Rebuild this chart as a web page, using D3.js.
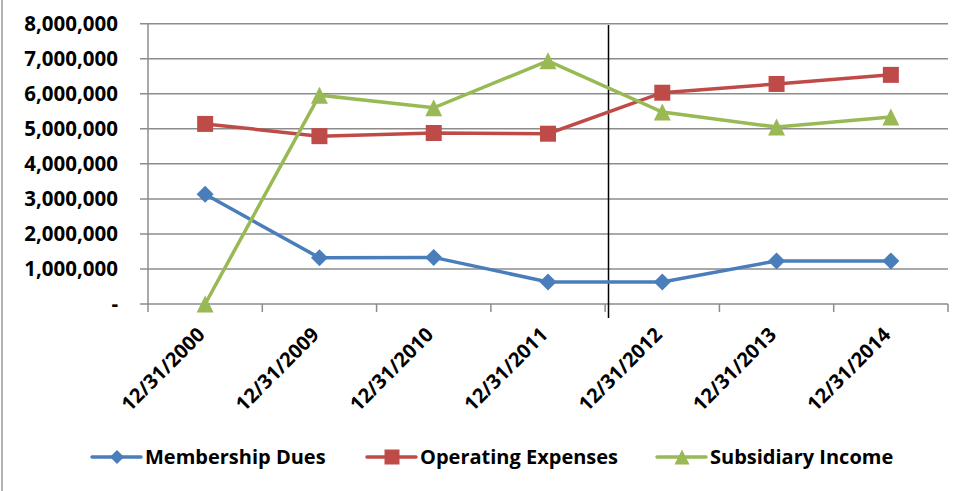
<!DOCTYPE html>
<html>
<head>
<meta charset="utf-8">
<script src="https://cdn.jsdelivr.net/npm/d3@7"></script>
<style>
body { margin: 0; background: #fff; }
text { font-family: "Open Sans", "Liberation Sans", sans-serif; font-weight: bold; fill: #000; }
</style>
</head>
<body>
<script>
// chart data
var dates = ["12/31/2000", "12/31/2009", "12/31/2010", "12/31/2011", "12/31/2012", "12/31/2013", "12/31/2014"];
var membershipDues = [3130000, 1320000, 1330000, 630000, 630000, 1230000, 1230000];
var operatingExpenses = [5140000, 4790000, 4880000, 4860000, 6030000, 6280000, 6540000];
var subsidiaryIncome = [0, 5960000, 5600000, 6940000, 5480000, 5050000, 5340000];
var seriesNames = ["Membership Dues", "Operating Expenses", "Subsidiary Income"];
var yTicks = [0, 1000000, 2000000, 3000000, 4000000, 5000000, 6000000, 7000000, 8000000];

var width = 961, height = 491;
var plotLeft = 148, plotRight = 948, plotTop = 23.7, plotBottom = 304;
var colors = ["#4a7ebb", "#be4b48", "#98b954"];
var fontSize = "20px";

// marker paths centred on 0,0 (r = half size)
function marker(kind, r) {
  if (kind === 0) return "M0," + (-r) + "L" + r + ",0L0," + r + "L" + (-r) + ",0Z";
  if (kind === 1) return "M" + (-r) + "," + (-r) + "H" + r + "V" + r + "H" + (-r) + "Z";
  return "M0," + (-r) + "L" + r + "," + r + "H" + (-r) + "Z";
}
var markerR = [8.5, 8, 8.5];
var legendR = [7, 7.5, 7.5];

var svg = d3.select("body").append("svg")
  .attr("width", width)
  .attr("height", height);

// left border of the chart frame
svg.append("line")
  .attr("x1", 2).attr("x2", 2).attr("y1", 0).attr("y2", height)
  .attr("stroke", "#999").attr("stroke-width", 1.5);

var x = d3.scaleBand().domain(dates).range([plotLeft, plotRight]);
var y = d3.scaleLinear().domain([0, 8000000]).range([plotBottom, plotTop]);

// gridlines + left ticks
svg.append("g").selectAll("line")
  .data(yTicks)
  .enter().append("line")
  .attr("x1", plotLeft - 8).attr("x2", plotRight)
  .attr("y1", function(d) { return y(d); })
  .attr("y2", function(d) { return y(d); })
  .attr("stroke", "#8c8c8c").attr("stroke-width", 1.5);

// y axis line
svg.append("line")
  .attr("x1", plotLeft).attr("x2", plotLeft).attr("y1", plotTop).attr("y2", plotBottom)
  .attr("stroke", "#8c8c8c").attr("stroke-width", 1.5);

// category ticks
var catTicks = dates.map(function(d) { return x(d); }).concat([plotRight]);
svg.append("g").selectAll("line")
  .data(catTicks)
  .enter().append("line")
  .attr("x1", function(d) { return d; }).attr("x2", function(d) { return d; })
  .attr("y1", plotBottom).attr("y2", plotBottom + 8)
  .attr("stroke", "#8c8c8c").attr("stroke-width", 1.5);

// y labels
svg.append("g").selectAll("text")
  .data(yTicks)
  .enter().append("text")
  .attr("x", 118)
  .attr("y", function(d) { return y(d) + 7; })
  .attr("text-anchor", "end")
  .style("font-size", "20.5px")
  .text(function(d) { return d === 0 ? "-" : d3.format(",")(d); });

// x labels, rotated
svg.append("g").selectAll("text")
  .data(dates)
  .enter().append("text")
  .attr("text-anchor", "end")
  .attr("transform", function(d) {
    var cx = x(d) + x.bandwidth() / 2 + 1;
    return "translate(" + cx + "," + (plotBottom + 32) + ") rotate(-45)";
  })
  .style("font-size", fontSize)
  .text(function(d) { return d; });

// divider line
svg.append("line")
  .attr("x1", 608.5).attr("x2", 608.5).attr("y1", 25).attr("y2", 318)
  .attr("stroke", "#000").attr("stroke-width", 1.5);

var allSeries = [membershipDues, operatingExpenses, subsidiaryIncome];
var line = d3.line()
  .x(function(d, i) { return x(dates[i]) + x.bandwidth() / 2; })
  .y(function(d) { return y(d); });

allSeries.forEach(function(vals, s) {
  svg.append("path")
    .attr("d", line(vals))
    .attr("fill", "none")
    .attr("stroke", colors[s])
    .attr("stroke-width", 3.5);
  svg.append("g").selectAll("path")
    .data(vals)
    .enter().append("path")
    .attr("d", marker(s, markerR[s]))
    .attr("transform", function(d, i) {
      return "translate(" + (x(dates[i]) + x.bandwidth() / 2) + "," + y(d) + ")";
    })
    .attr("fill", colors[s]);
});

// legend
var legendX = [92, 367, 657];
var legend = svg.append("g").selectAll("g")
  .data(seriesNames)
  .enter().append("g")
  .attr("transform", function(d, i) { return "translate(" + legendX[i] + ",457)"; });
legend.append("line")
  .attr("x1", 0).attr("x2", 49).attr("y1", 0).attr("y2", 0)
  .attr("stroke", function(d, i) { return colors[i]; })
  .attr("stroke-width", 3.5)
  .attr("stroke-linecap", "round");
legend.append("path")
  .attr("d", function(d, i) { return marker(i, legendR[i]); })
  .attr("transform", "translate(25,0)")
  .attr("fill", function(d, i) { return colors[i]; });
legend.append("text")
  .attr("x", 53).attr("y", 7)
  .style("font-size", fontSize)
  .text(function(d) { return d; });
</script>
</body>
</html>
